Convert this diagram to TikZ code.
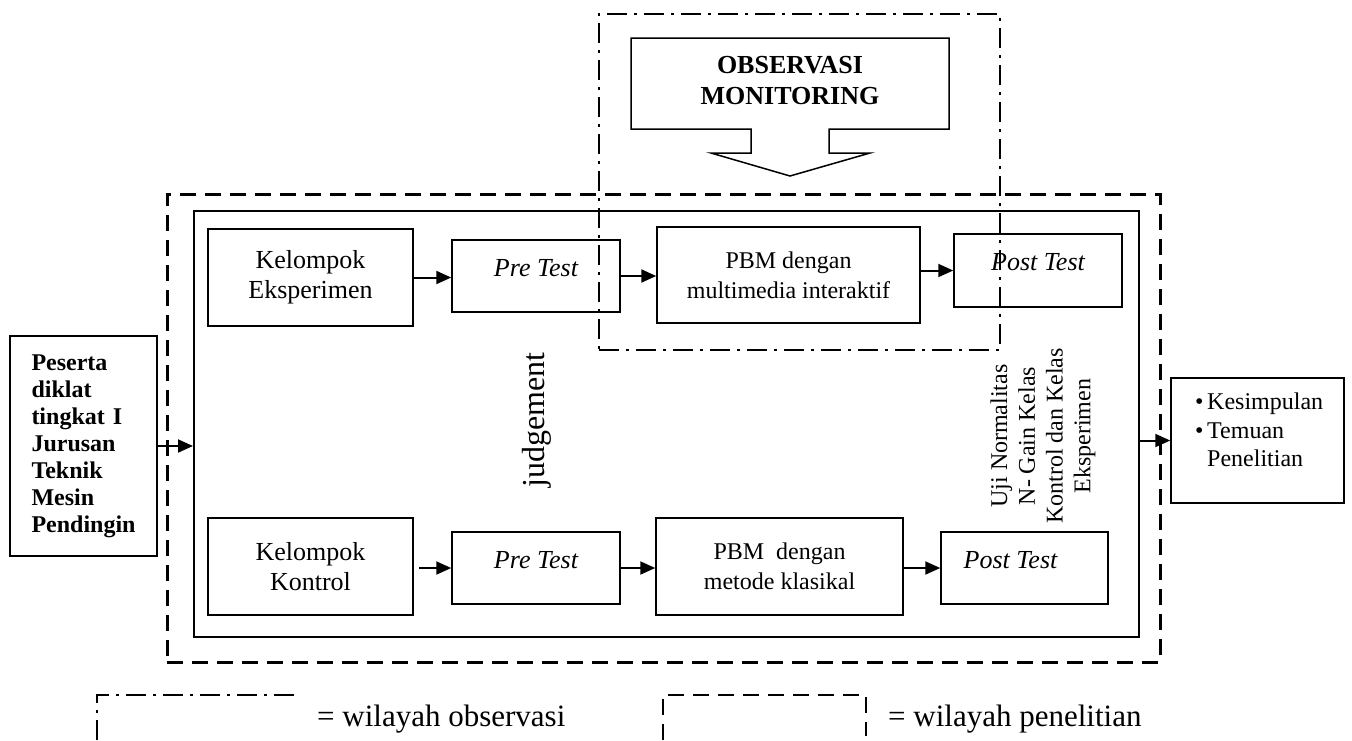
\documentclass[tikz,border=0pt]{standalone}
\usepackage{fontspec}
\setmainfont{Liberation Serif}
\usetikzlibrary{arrows.meta,calc}
\begin{document}
\begin{tikzpicture}[x=1pt,y=-1pt,
  box/.style={draw,line width=1.5pt,inner sep=0pt,align=center},
  grpbox/.style={box,font=\fontsize{26}{30}\selectfont},
  testbox/.style={box,font=\itshape\fontsize{26}{30}\selectfont,text height=10pt,text depth=10pt},
  pbmbox/.style={box,font=\fontsize{24}{30}\selectfont},
  arr/.style={line width=2pt,-{Triangle[length=15pt,width=13pt]}},
  obsline/.style={line width=2.5pt,dash pattern=on 20pt off 7pt on 3pt off 7pt},
  penline/.style={line width=3pt,dash pattern=on 16pt off 9pt},
]
\useasboundingbox (0,0) rectangle (1352,740);

% observation callout
\draw[line width=1.5pt,fill=white] (631,38) -- (949,38) -- (949,129) -- (829,129) -- (829,153)
  -- (870,153) -- (790,176) -- (711,153) -- (751,153) -- (751,129) -- (631,129) -- cycle;
\node[font=\bfseries\fontsize{26}{31}\selectfont,align=center] (obs) at (790,81) {OBSERVASI\\MONITORING};

% regions
\node[draw,line width=2pt,minimum width=945pt,minimum height=426pt,inner sep=0pt] (inner) at (666.5,424) {};
\node[draw,penline,minimum width=993pt,minimum height=468pt,inner sep=0pt] (outer) at (663.5,428) {};
\node[draw,obsline,minimum width=401pt,minimum height=336pt,inner sep=0pt] (obsreg) at (799.5,182) {};

% left input
\node[box,minimum width=147pt,minimum height=220pt,text width=104pt,align=left,
  font=\bfseries\fontsize{24}{27}\selectfont] (peserta) at (83.5,446)
  {Peserta\\diklat\\tingkat I\\Jurusan\\Teknik\\Mesin\\Pendingin};

% top row
\node[grpbox,minimum width=205pt,minimum height=97pt] (ke) at (310.5,277.5) {Kelompok\\Eksperimen};
\node[testbox,minimum width=168pt,minimum height=72pt] (pt1) at (536,276) {Pre Test};
\node[pbmbox,minimum width=263pt,minimum height=96pt] (pbm1) at (788.5,275) {PBM dengan\\multimedia interaktif};
\node[testbox,minimum width=168pt,minimum height=73pt] (post1) at (1038,270.5) {Post Test};

% bottom row
\node[grpbox,minimum width=205pt,minimum height=97pt] (kk) at (310.5,566.5) {Kelompok\\Kontrol};
\node[testbox,minimum width=168pt,minimum height=72pt] (pt2) at (536,568) {Pre Test};
\node[pbmbox,minimum width=247pt,minimum height=97pt] (pbm2) at (779.5,566.5) {PBM\ \ dengan\\metode klasikal};
\node[testbox,minimum width=167pt,minimum height=72pt] (post2) at (1024.5,568) {Post Test\hspace{28pt}};

% vertical texts
\node[rotate=90,font=\fontsize{32}{38}\selectfont] (jud) at (537,420) {judgement};
\node[rotate=90,align=center,font=\fontsize{24}{27.7}\selectfont] (uji) at (1043,436)
  {Uji Normalitas\\N- Gain Kelas\\Kontrol dan Kelas\\Eksperimen};

% output
\node[box,minimum width=173pt,minimum height=125pt] (kes) at (1257.5,440.5) {};
\node[anchor=north west,inner sep=0pt,align=left,font=\fontsize{24}{28.5}\selectfont] (kestxt) at (1195,393)
  {\makebox[12pt][l]{\textbullet}Kesimpulan\\\makebox[12pt][l]{\textbullet}Temuan\\\hspace*{12pt}Penelitian};

% connectors
\draw[arr] (peserta.east) -- (peserta.east -| inner.west);
\draw[arr] (kes.west -| inner.east) -- (kes.west);
\draw[arr] (ke.east) -- (ke.east -| pt1.west);
\draw[arr] (pt1.east) -- (pt1.east -| pbm1.west);
\draw[arr] (post1.west -| pbm1.east) -- (post1.west);
\draw[arr,shorten <=5pt] (pt2.west -| kk.east) -- (pt2.west);
\draw[arr] (pt2.east) -- (pt2.east -| pbm2.west);
\draw[arr] (post2.west -| pbm2.east) -- (post2.west);

% legend
\draw[obsline,line width=2pt] (97,740) -- (97,695) -- (297,695);
\node[anchor=base west,inner sep=0pt,font=\fontsize{31}{36}\selectfont] (lg1) at (317,726) {= wilayah observasi};
\draw[penline,line width=2pt] (663,740) -- (663,695) -- (866,695) -- (866,736);
\node[anchor=base west,inner sep=0pt,font=\fontsize{31}{36}\selectfont] (lg2) at (888,726) {= wilayah penelitian};
\end{tikzpicture}
\end{document}
